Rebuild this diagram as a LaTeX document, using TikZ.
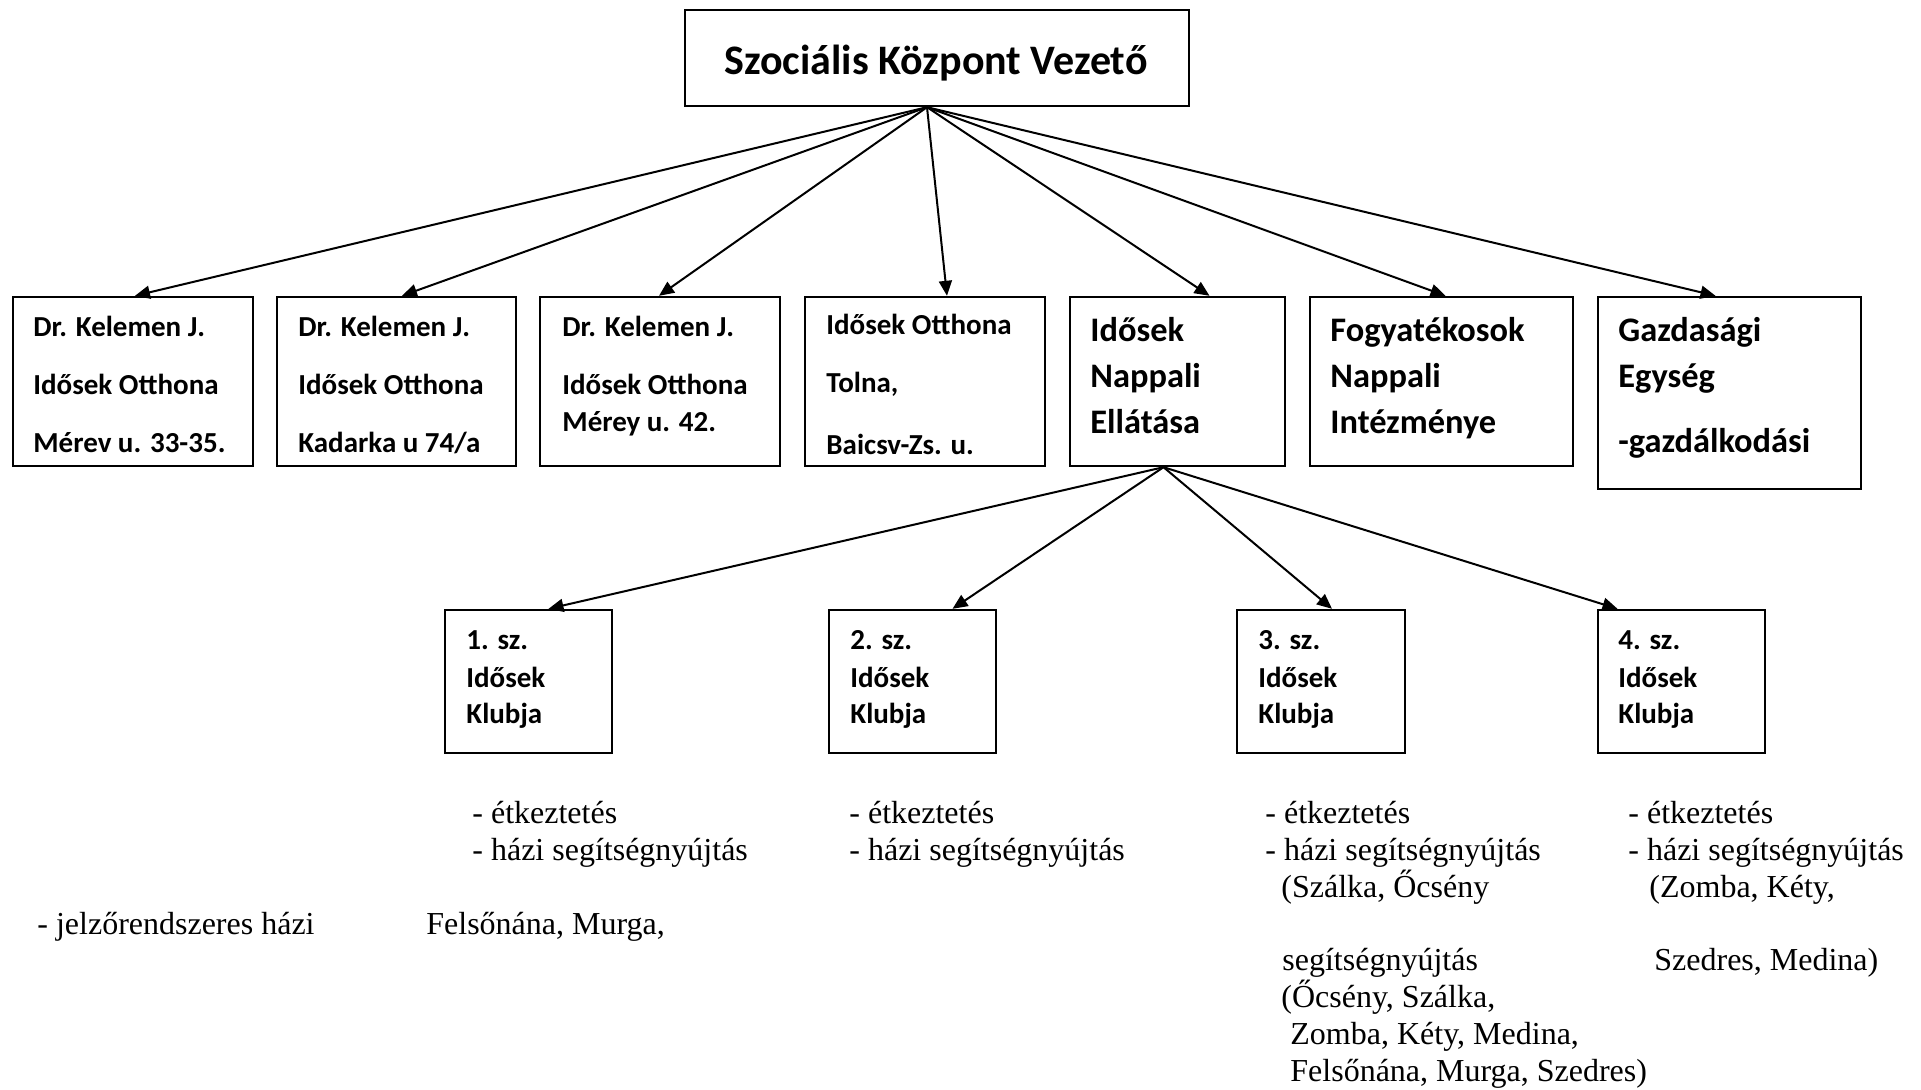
\documentclass[tikz,border=0pt]{standalone}
\usepackage{fontspec}
\setmainfont{Liberation Serif}
\newfontfamily\calibri{Carlito}
\usetikzlibrary{arrows.meta}

\begin{document}
\begin{tikzpicture}[x=0.5pt,y=-0.5pt,
  unitbox/.style={draw,line width=1.2pt,inner sep=0pt},
  link/.style={line width=1pt,-{Triangle[length=7.5pt,width=6.5pt]}},
  boxtxt/.style={inner sep=0pt,anchor=base west,font=\calibri\bfseries\fontsize{14.5}{17}\selectfont},
  bigtxt/.style={boxtxt,font=\calibri\bfseries\fontsize{17.2}{20}\selectfont},
  note/.style={inner sep=0pt,anchor=base west,font=\fontsize{16}{19}\selectfont}]
\useasboundingbox (0,0) rectangle (1921,1090);

\node[unitbox,minimum width=252pt,minimum height=48pt] (head) at (937,58) {};
\node[inner sep=0pt,anchor=base,font=\calibri\bfseries\fontsize{21}{25}\selectfont] (headtxt) at (936,75) {Szociális Központ Vezető};

\node[unitbox,minimum width=120pt,minimum height=84.5pt] (b1) at (133,381.5) {};
\node[unitbox,minimum width=119.5pt,minimum height=84.5pt] (b2) at (396.5,381.5) {};
\node[unitbox,minimum width=120pt,minimum height=84.5pt] (b3) at (660,381.5) {};
\node[unitbox,minimum width=120pt,minimum height=84.5pt] (b4) at (925,381.5) {};
\node[unitbox,minimum width=107.5pt,minimum height=84.5pt] (b5) at (1177.5,381.5) {};
\node[unitbox,minimum width=131.5pt,minimum height=84.5pt] (b6) at (1441.5,381.5) {};
\node[unitbox,minimum width=131.5pt,minimum height=96pt] (b7) at (1729.5,393) {};

\node[unitbox,minimum width=83.5pt,minimum height=71.5pt] (c1) at (528.5,681.5) {};
\node[unitbox,minimum width=83.5pt,minimum height=71.5pt] (c2) at (912.5,681.5) {};
\node[unitbox,minimum width=84pt,minimum height=71.5pt] (c3) at (1321,681.5) {};
\node[unitbox,minimum width=83.5pt,minimum height=71.5pt] (c4) at (1681.5,681.5) {};

\draw[link] ([xshift=-5pt]head.south) -- ([xshift=1pt]b1.north);
\draw[link] ([xshift=-5pt]head.south) -- ([xshift=2.75pt]b2.north);
\draw[link] ([xshift=-5pt]head.south) -- ([xshift=-0.5pt]b3.north);
\draw[link] ([xshift=-5pt]head.south) -- ([xshift=11pt]b4.north);
\draw[link] ([xshift=-5pt]head.south) -- ([xshift=16pt]b5.north);
\draw[link] ([xshift=-5pt]head.south) -- ([xshift=2pt]b6.north);
\draw[link] ([xshift=-5pt]head.south) -- ([xshift=-7pt]b7.north);

\draw[link] ([xshift=-7pt]b5.south) -- ([xshift=10pt]c1.north);
\draw[link] ([xshift=-7pt]b5.south) -- ([xshift=20pt]c2.north);
\draw[link] ([xshift=-7pt]b5.south) -- ([xshift=5.5pt]c3.north);
\draw[link] ([xshift=-7pt]b5.south) -- ([xshift=-32pt]c4.north);

\node[boxtxt] (b1a) at (33,337) {Dr. Kelemen J.};
\node[boxtxt] (b1b) at (33,395) {Idősek Otthona};
\node[boxtxt] (b1c) at (33,453) {Mérev u. 33-35.};
\node[boxtxt] (b2a) at (298,337) {Dr. Kelemen J.};
\node[boxtxt] (b2b) at (298,395) {Idősek Otthona};
\node[boxtxt] (b2c) at (298,453) {Kadarka u 74/a};
\node[boxtxt] (b3a) at (562,337) {Dr. Kelemen J.};
\node[boxtxt] (b3b) at (562,395) {Idősek Otthona};
\node[boxtxt] (b3c) at (562,432) {Mérey u. 42.};
\node[boxtxt] (b4a) at (826,335) {Idősek Otthona};
\node[boxtxt] (b4b) at (826,393) {Tolna,};
\node[boxtxt] (b4c) at (826,455) {Baicsv-Zs. u.};
\node[bigtxt] (b5a) at (1090,342) {Idősek};
\node[bigtxt] (b5b) at (1090,388) {Nappali};
\node[bigtxt] (b5c) at (1090,434) {Ellátása};
\node[bigtxt] (b6a) at (1330,342) {Fogyatékosok};
\node[bigtxt] (b6b) at (1330,388) {Nappali};
\node[bigtxt] (b6c) at (1330,434) {Intézménye};
\node[bigtxt] (b7a) at (1618,342) {Gazdasági};
\node[bigtxt] (b7b) at (1618,388) {Egység};
\node[bigtxt] (b7c) at (1618,453) {-gazdálkodási};

\node[boxtxt] (c1a) at (466,649) {1. sz.};
\node[boxtxt] (c1b) at (466,687) {Idősek};
\node[boxtxt] (c1c) at (466,723) {Klubja};
\node[boxtxt] (c2a) at (850,649) {2. sz.};
\node[boxtxt] (c2b) at (850,687) {Idősek};
\node[boxtxt] (c2c) at (850,723) {Klubja};
\node[boxtxt] (c3a) at (1258,649) {3. sz.};
\node[boxtxt] (c3b) at (1258,687) {Idősek};
\node[boxtxt] (c3c) at (1258,723) {Klubja};
\node[boxtxt] (c4a) at (1618,649) {4. sz.};
\node[boxtxt] (c4b) at (1618,687) {Idősek};
\node[boxtxt] (c4c) at (1618,723) {Klubja};

\node[note] (n1a) at (472,823) {- étkeztetés};
\node[note] (n1b) at (472,860) {- házi segítségnyújtás};
\node[note] (n2a) at (849,823) {- étkeztetés};
\node[note] (n2b) at (849,860) {- házi segítségnyújtás};
\node[note] (n3a) at (1265,823) {- étkeztetés};
\node[note] (n3b) at (1265,860) {- házi segítségnyújtás};
\node[note] (n3c) at (1281,897) {(Szálka, Őcsény};
\node[note] (n3d) at (1282,970) {segítségnyújtás};
\node[note] (n3e) at (1281,1007) {(Őcsény, Szálka,};
\node[note] (n3f) at (1290,1044) {Zomba, Kéty, Medina,};
\node[note] (n3g) at (1290,1081) {Felsőnána, Murga, Szedres)};
\node[note] (n4a) at (1628,823) {- étkeztetés};
\node[note] (n4b) at (1628,860) {- házi segítségnyújtás};
\node[note] (n4c) at (1649,897) {(Zomba, Kéty,};
\node[note] (n4d) at (1654,970) {Szedres, Medina)};
\node[note] (n0a) at (37,934) {- jelzőrendszeres házi};
\node[note] (n0b) at (426,934) {Felsőnána, Murga,};
\end{tikzpicture}
\end{document}
